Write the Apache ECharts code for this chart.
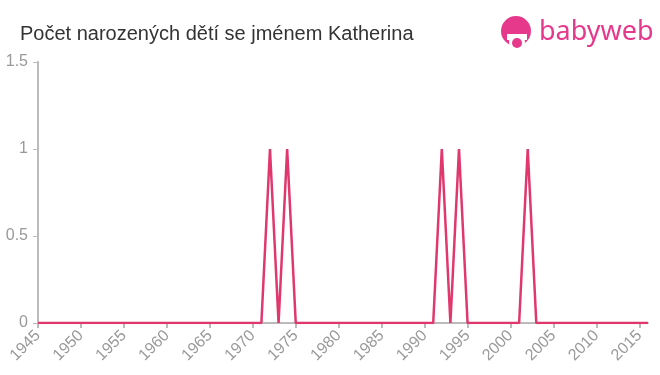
<!DOCTYPE html>
<html>
<head>
<meta charset="utf-8">
<script src="https://cdn.jsdelivr.net/npm/echarts@6/dist/echarts.min.js"></script>
<style>html,body{margin:0;padding:0;background:#fff}#c{width:660px;height:375px}</style>
</head>
<body>
<div id="c"></div>
<script>
var title = 'Počet narozených dětí se jménem Katherina';
var years = [];
for (var y = 1945; y <= 2016; y++) years.push(y);
var peakYears = [1972, 1974, 1992, 1994, 2002];
var peakValues = [1, 1, 1, 1, 1];
var xTickLabels = [1945,1950,1955,1960,1965,1970,1975,1980,1985,1990,1995,2000,2005,2010,2015];
var yTickLabels = [0, 0.5, 1, 1.5];

var seriesData = years.map(function (yr) {
  var i = peakYears.indexOf(yr);
  return [yr, i >= 0 ? peakValues[i] : 0];
});

var chart = echarts.init(document.getElementById('c'));
chart.setOption({
  animation: false,
  title: {
    text: title, left: 15, top: 19,
    textStyle: { fontFamily: 'Liberation Sans, Arial', fontSize: 20, fontWeight: 'normal', color: '#333' }
  },
  grid: { left: 38, right: 12, top: 62, bottom: 52 },
  xAxis: {
    type: 'value', min: 1945, max: 2016,
    axisLine: { lineStyle: { color: '#bbb', width: 2 } },
    axisTick: { customValues: xTickLabels, length: 5, lineStyle: { color: '#bbb', width: 2 } },
    axisLabel: { customValues: xTickLabels, rotate: 45, color: '#999', fontSize: 16, fontFamily: 'Liberation Sans, Arial', margin: 10,
      formatter: function (v) { return String(v); } },
    splitLine: { show: false }
  },
  yAxis: {
    type: 'value', min: 0, max: 1.5, interval: 0.5,
    axisLine: { show: true, lineStyle: { color: '#bbb', width: 2 } },
    axisTick: { show: true, length: 5, lineStyle: { color: '#bbb', width: 1 } },
    axisLabel: { color: '#999', fontSize: 16, fontFamily: 'Liberation Sans, Arial', margin: 10,
      formatter: function (v) { return String(v); } },
    splitLine: { show: false }
  },
  series: [{
    type: 'line', data: seriesData, showSymbol: false,
    lineStyle: { color: '#e0376c', width: 2.5 }, itemStyle: { color: '#e0376c' }
  }],
  graphic: [
    { type: 'circle', shape: { cx: 516, cy: 31, r: 15 }, style: { fill: '#e6398c' } },
    { type: 'circle', shape: { cx: 517, cy: 42, r: 8 }, style: { fill: '#fff' } },
    { type: 'rect', shape: { x: 507, y: 34, width: 20, height: 6 }, style: { fill: '#fff' } },
    { type: 'circle', shape: { cx: 517, cy: 43, r: 5 }, style: { fill: '#e6398c' } },
    { type: 'text', left: 539, top: 19, style: { text: 'babyweb', fill: '#e6398c', font: '27px "Noto Sans", sans-serif' } }
  ]
});
</script>
</body>
</html>
